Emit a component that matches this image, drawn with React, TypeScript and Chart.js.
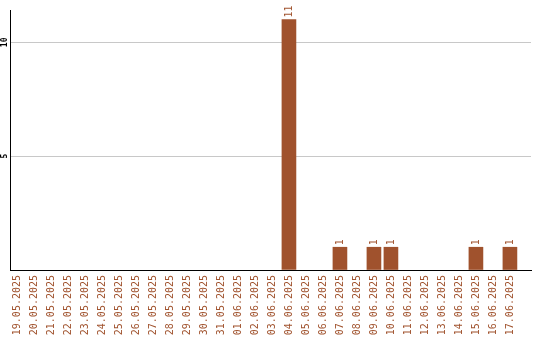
import React, { useEffect, useRef } from "react";
import { Chart, registerables } from "chart.js";

Chart.register(...registerables);

// Daily counts, 19.05.2025 – 17.06.2025
const dates: string[] = [
  "19.05.2025", "20.05.2025", "21.05.2025", "22.05.2025", "23.05.2025",
  "24.05.2025", "25.05.2025", "26.05.2025", "27.05.2025", "28.05.2025",
  "29.05.2025", "30.05.2025", "31.05.2025", "01.06.2025", "02.06.2025",
  "03.06.2025", "04.06.2025", "05.06.2025", "06.06.2025", "07.06.2025",
  "08.06.2025", "09.06.2025", "10.06.2025", "11.06.2025", "12.06.2025",
  "13.06.2025", "14.06.2025", "15.06.2025", "16.06.2025", "17.06.2025",
];

const counts: number[] = [
  0, 0, 0, 0, 0,
  0, 0, 0, 0, 0,
  0, 0, 0, 0, 0,
  0, 11, 0, 0, 1,
  0, 1, 1, 0, 0,
  0, 0, 1, 0, 1,
];

const yTicks: number[] = [0, 5, 10];

const BAR = "#a0522d";
const MONO = "'DejaVu Sans Mono', monospace";

// Rotated value labels above bars and rotated y tick labels
const labelPlugin = {
  id: "rotatedLabels",
  afterDatasetsDraw(chart: any) {
    const ctx = chart.ctx;
    const meta = chart.getDatasetMeta(0);
    ctx.save();
    ctx.fillStyle = BAR;
    ctx.font = `10px ${MONO}`;
    ctx.textAlign = "left";
    ctx.textBaseline = "middle";
    meta.data.forEach((bar: any, i: number) => {
      const v = counts[i];
      if (!v) return;
      ctx.save();
      ctx.translate(bar.x + 0.5, bar.y - 2);
      ctx.rotate(-Math.PI / 2);
      ctx.fillText(String(v), 0, 0);
      ctx.restore();
    });
    const yScale = chart.scales.y;
    ctx.fillStyle = "#000";
    ctx.font = `bold 8px ${MONO}`;
    ctx.textAlign = "center";
    yTicks.forEach((t) => {
      if (t === 0) return;
      ctx.save();
      ctx.translate(4.5, yScale.getPixelForValue(t));
      ctx.rotate(-Math.PI / 2);
      ctx.fillText(String(t), 0, 0);
      ctx.restore();
    });
    ctx.restore();
  },
};

export default function App() {
  const ref = useRef<HTMLCanvasElement | null>(null);

  useEffect(() => {
    if (!ref.current) return;
    const chart = new Chart(ref.current, {
      type: "bar",
      data: {
        datasets: [
          {
            data: dates.map((_, i) => ({ x: i, y: counts[i] || null })),
            backgroundColor: BAR,
            borderWidth: 0,
            barThickness: 14,
          },
        ],
      },
      options: {
        animation: false,
        responsive: false,
        layout: { padding: { top: 10, right: 9, left: 0, bottom: 0 } },
        plugins: {
          legend: { display: false },
          tooltip: { enabled: false },
        },
        scales: {
          x: {
            type: "linear",
            offset: false,
            min: -0.41,
            max: 30.24,
            afterBuildTicks: (scale: any) => {
              scale.ticks = dates.map((_, i) => ({ value: i }));
            },
            afterFit: (scale: any) => {
              scale.height = 70;
            },
            grid: { display: false, drawTicks: false, offset: false },
            border: { display: true, color: "#000", width: 1 },
            ticks: {
              autoSkip: false,
              minRotation: 90,
              maxRotation: 90,
              padding: 5,
              color: BAR,
              font: { family: MONO, size: 10 },
              callback: (v: any) => dates[Math.round(Number(v))] ?? "",
            },
          },
          y: {
            min: 0,
            max: 11.42,
            afterBuildTicks: (scale: any) => {
              scale.ticks = yTicks.map((v) => ({ value: v }));
            },
            afterFit: (scale: any) => {
              scale.width = 10;
            },
            grid: { color: "#c8c8c8", lineWidth: 1, drawTicks: false },
            border: { display: true, color: "#000", width: 1 },
            ticks: { display: false },
          },
        },
      },
      plugins: [labelPlugin],
    } as any);
    return () => chart.destroy();
  }, []);

  return (
    <div style={{ position: "fixed", left: 0, top: 0, width: 540, height: 340, background: "#fff" }}>
      <canvas ref={ref} width={540} height={340} />
    </div>
  );
}
